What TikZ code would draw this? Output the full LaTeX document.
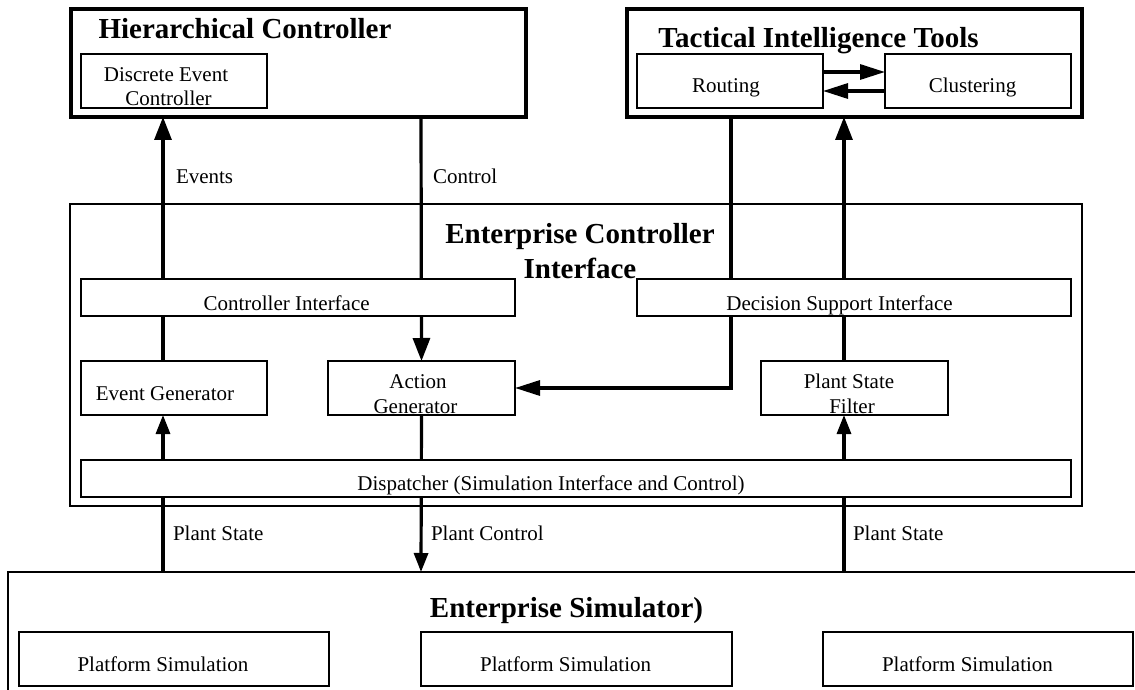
\documentclass[tikz,border=0pt]{standalone}
\usepackage{fontspec}
\setmainfont{Liberation Serif}
\usetikzlibrary{arrows.meta}
\pgfdeclarelayer{wires}
\pgfsetlayers{wires,main}

\tikzset{
  frame/.style={draw, line width=3.3pt, inner sep=0pt, outer sep=0pt},
  bigframe/.style={draw, line width=2.8pt, inner sep=0pt, outer sep=0pt},
  box/.style={draw, fill=white, line width=1.5pt, inner sep=0pt, outer sep=0pt},
  lbl/.style={inner sep=0pt, outer sep=0pt, font=\fontsize{21}{24}\selectfont},
  ttl/.style={inner sep=0pt, outer sep=0pt, font=\fontsize{29}{34}\selectfont\bfseries},
  wire/.style={line width=3.2pt},
  bigtip/.style={-{Triangle[length=23pt,width=17pt]}},
  smalltip/.style={-{Triangle[length=19pt,width=14pt]}},
  sidetip/.style={-{Triangle[length=25pt,width=15pt]}},
}

\begin{document}
\begin{tikzpicture}[x=1pt,y=-1pt]
\useasboundingbox (0,0) rectangle (1135,690);
\clip (0,0) rectangle (1135,690);

% columns of the vertical connectors
\coordinate (colA) at (163,0);
\coordinate (colB) at (421,0);
\coordinate (colC) at (731,0);
\coordinate (colD) at (844,0);

% ---------- top level blocks ----------
\node[frame, minimum width=455pt, minimum height=108pt] (hc)  at (298.5,63) {};
\node[frame, minimum width=455pt, minimum height=108pt] (tit) at (854.5,63) {};
\node[bigframe, minimum width=1012pt, minimum height=302pt] (eci) at (576,355) {};
\node[bigframe, minimum width=1142pt, minimum height=148pt] (es) at (579,646) {};

% ---------- inner boxes ----------
\node[box, minimum width=186pt, minimum height=54pt] (dec)   at (174,81) {};
\node[box, minimum width=186pt, minimum height=54pt] (route) at (730,81) {};
\node[box, minimum width=186pt, minimum height=54pt] (clust) at (978,81) {};

\node[box, minimum width=434pt, minimum height=37pt] (ci)  at (298,297.5) {};
\node[box, minimum width=434pt, minimum height=37pt] (dsi) at (854,297.5) {};
\node[box, minimum width=186pt, minimum height=54pt] (evgen)  at (174,388) {};
\node[box, minimum width=187pt, minimum height=54pt] (actgen) at (421.5,388) {};
\node[box, minimum width=187pt, minimum height=54pt] (psf)    at (854.5,388) {};
\node[box, minimum width=990pt, minimum height=37pt] (disp)   at (576,478.5) {};

\node[box, minimum width=310pt, minimum height=54pt] (ps1) at (174,659) {};
\node[box, minimum width=311pt, minimum height=54pt] (ps2) at (576.5,659) {};
\node[box, minimum width=310pt, minimum height=54pt] (ps3) at (978,659) {};

% ---------- titles ----------
\node[ttl, anchor=base] (t-hc)   at (245,39)  {Hierarchical Controller};
\node[ttl, anchor=base] (t-tit)  at (818.5,48) {Tactical Intelligence Tools};
\node[ttl, anchor=base] (t-eci1) at (580,243) {Enterprise Controller};
\node[ttl, anchor=base] (t-eci2) at (580,278) {Interface};
\node[ttl, anchor=base] (t-es)   at (566.5,617) {Enterprise Simulator)};

% ---------- box texts ----------
\node[lbl, anchor=base] (t-dec1) at (166,82)  {Discrete Event};
\node[lbl, anchor=base] (t-dec2) at (168.5,106) {Controller};
\node[lbl, anchor=base] (t-route) at (726,93) {Routing};
\node[lbl, anchor=base] (t-clust) at (972.5,93) {Clustering};
\node[lbl, anchor=base] (t-ci)  at (286.6,310) {Controller Interface};
\node[lbl, anchor=base] (t-dsi) at (839.5,310) {Decision Support Interface};
\node[lbl, anchor=base] (t-evgen) at (165,400) {Event Generator};
\node[lbl, anchor=base] (t-act1) at (418,388) {Action};
\node[lbl, anchor=base] (t-act2) at (415.5,413) {Generator};
\node[lbl, anchor=base] (t-psf1) at (849,388) {Plant State};
\node[lbl, anchor=base] (t-psf2) at (852,413) {Filter};
\node[lbl, anchor=base] (t-disp) at (551,490) {Dispatcher (Simulation Interface and Control)};
\node[lbl, anchor=base] (t-ps1) at (163,671) {Platform Simulation};
\node[lbl, anchor=base] (t-ps2) at (565.6,671) {Platform Simulation};
\node[lbl, anchor=base] (t-ps3) at (967.5,671) {Platform Simulation};

% ---------- connector labels ----------
\node[lbl, anchor=base west] (l-ev)   at (176,183) {Events};
\node[lbl, anchor=base west] (l-ctl)  at (433,183) {Control};
\node[lbl, anchor=base west] (l-ps1)  at (173,540) {Plant State};
\node[lbl, anchor=base west] (l-pc)   at (431,540) {Plant Control};
\node[lbl, anchor=base west] (l-ps2)  at (853,540) {Plant State};

% ---------- connectors (behind the white boxes) ----------
\begin{pgfonlayer}{wires}
  \draw[wire, bigtip]   (colA |- evgen.north) -- (colA |- hc.south);
  \draw[wire, smalltip] (colA |- es.north) -- (colA |- evgen.south);
  \draw[wire, bigtip]   (colB |- hc.south) -- (actgen.north);
  \draw[wire, smalltip] (actgen.south) -- (colB |- es.north);
  \draw[wire, sidetip]  (colC |- tit.south) -- (colC |- actgen.east) -- (actgen.east);
  \draw[wire, smalltip] (colD |- es.north) -- (colD |- psf.south);
  \draw[wire, bigtip]   (colD |- psf.north) -- (colD |- tit.south);
  \draw[wire, sidetip]  ([yshift=9pt]route.east) -- ([yshift=9pt]clust.west);
  \draw[wire, sidetip]  ([yshift=-10pt]clust.west) -- ([yshift=-10pt]route.east);
\end{pgfonlayer}
\end{tikzpicture}
\end{document}
